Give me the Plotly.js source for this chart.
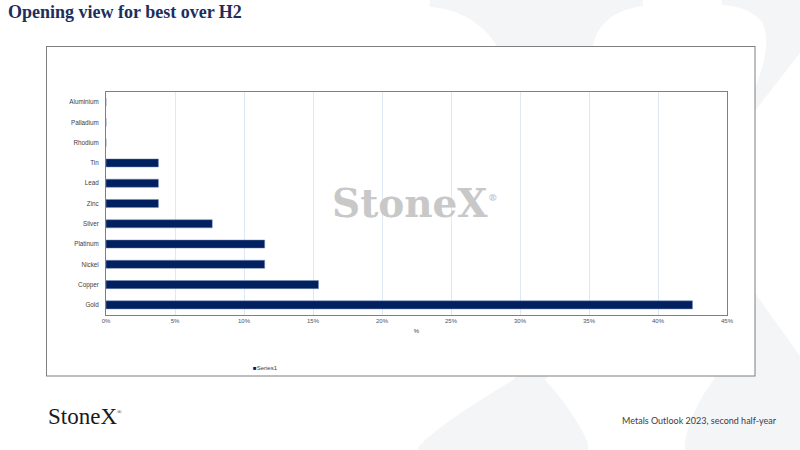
<!DOCTYPE html>
<html>
<head>
<meta charset="utf-8">
<script src="https://cdn.plot.ly/plotly-3.0.1.min.js"></script>
<style>
  html, body { margin: 0; padding: 0; background: #ffffff; }
  #wrap { position: relative; width: 800px; height: 450px; overflow: hidden; }
  #bg { position: absolute; left: 0; top: 0; }
  #chart { position: absolute; left: 0; top: 0; width: 800px; height: 450px; }
</style>
</head>
<body>
<div id="wrap">
  <svg id="bg" width="800" height="450" viewBox="0 0 800 450">
    <rect x="0" y="0" width="800" height="450" fill="#ffffff"/>
    <!-- faint background watermark glyph -->
    <path fill="#f4f5f7" d="M430,0 H643 V6 C614,10 597,24 593,46 L755,293 L800,356 V450 H685 V443 C688,420 700,398 715,378 L497,46 C482,22 458,9 430,7 Z"/>
    <path fill="#f4f5f7" d="M418,450 V447 C440,425 480,400 513,380 L755,87 C766,62 770,38 762,22 C752,10 738,6 722,5 V0 H800 V53 L545,380 C562,398 578,420 588,443 V450 Z"/>
    <rect x="46.5" y="46.5" width="708.5" height="329.5" fill="#ffffff" stroke="#7f7f7f" stroke-width="1"/>
  </svg>
  <div id="chart"></div>
</div>
<script>
// ---- data ----
var categories = ["Gold", "Copper", "Nickel", "Platinum", "Silver", "Zinc", "Lead", "Tin", "Rhodium", "Palladium", "Aluminium"];
var values = [42.5, 15.4, 11.5, 11.5, 7.7, 3.8, 3.8, 3.8, 0, 0, 0];
var seriesName = "Series1";
var xTickVals = [0, 5, 10, 15, 20, 25, 30, 35, 40, 45];
var xTickText = ["0%", "5%", "10%", "15%", "20%", "25%", "30%", "35%", "40%", "45%"];

// ---- layout helpers (pixel -> paper) ----
var M = {l: 106, r: 73, t: 92, b: 135};
var W = 800 - M.l - M.r, H = 450 - M.t - M.b;
function px(x) { return (x - M.l) / W; }
function py(y) { return (450 - M.b - y) / H; }

var trace = {
  type: "bar",
  orientation: "h",
  name: seriesName,
  y: categories,
  x: values,
  marker: {color: "#002060", line: {color: "#7d8fb3", width: 0.5}},
  hoverinfo: "x+y"
};

var layout = {
  width: 800,
  height: 450,
  margin: M,
  paper_bgcolor: "rgba(0,0,0,0)",
  plot_bgcolor: "#ffffff",
  showlegend: false,
  bargap: 0.6,
  title: {
    text: "<b>Opening view for best over H2</b>",
    xref: "container", yref: "container",
    x: 8 / 800, xanchor: "left",
    y: 1 - 12 / 450, yanchor: "middle",
    font: {family: "Liberation Serif, DejaVu Serif, serif", size: 18, color: "#1c2e5c"}
  },
  xaxis: {
    range: [0, 45],
    tickvals: xTickVals,
    ticktext: xTickText,
    showgrid: true,
    gridcolor: "#dde9f5",
    gridwidth: 1,
    zeroline: false,
    showline: true,
    mirror: true,
    linecolor: "#7f7f7f",
    linewidth: 1,
    ticks: "",
    tickfont: {family: "Liberation Sans Narrow, Liberation Sans, Arial, sans-serif", size: 6, color: "#44546a"},
    title: {text: "%", standoff: 5, font: {family: "Liberation Sans, Arial, sans-serif", size: 6, color: "#404040"}},
    fixedrange: true
  },
  yaxis: {
    type: "category",
    showgrid: false,
    zeroline: false,
    showline: true,
    mirror: true,
    linecolor: "#7f7f7f",
    linewidth: 1,
    ticks: "",
    ticklabelstandoff: 5,
    tickfont: {family: "Liberation Sans Narrow, Liberation Sans, Arial, sans-serif", size: 6.3, color: "#404040"},
    fixedrange: true
  },
  annotations: [
    {
      text: "StoneX<sup><span style='font-size:10px'>®</span></sup>",
      xref: "paper", yref: "paper",
      x: px(415), y: py(203), xanchor: "center", yanchor: "middle",
      showarrow: false,
      font: {family: "DejaVu Serif, Liberation Serif, serif", size: 39, color: "#c8c8c8", weight: "bold"}
    },
    {
      text: "<span style='color:#002060'>■</span>" + seriesName,
      xref: "paper", yref: "paper",
      x: px(251), y: py(368), xanchor: "left", yanchor: "middle",
      showarrow: false,
      font: {family: "Liberation Sans Narrow, Liberation Sans, Arial, sans-serif", size: 6, color: "#404040"}
    },
    {
      text: "StoneX<sup><span style='font-size:6px'>®</span></sup>",
      xref: "paper", yref: "paper",
      x: px(46), y: py(416), xanchor: "left", yanchor: "middle",
      showarrow: false,
      font: {family: "Liberation Serif, DejaVu Serif, serif", size: 23, color: "#1a1a1a"}
    },
    {
      text: "Metals Outlook 2023, second half-year",
      xref: "paper", yref: "paper",
      x: px(779), y: py(420), xanchor: "right", yanchor: "middle",
      showarrow: false,
      font: {family: "Lato, Open Sans, sans-serif", size: 9, color: "#404040"}
    }
  ]
};

Plotly.newPlot("chart", [trace], layout, {displayModeBar: false, staticPlot: true});
</script>
</body>
</html>
